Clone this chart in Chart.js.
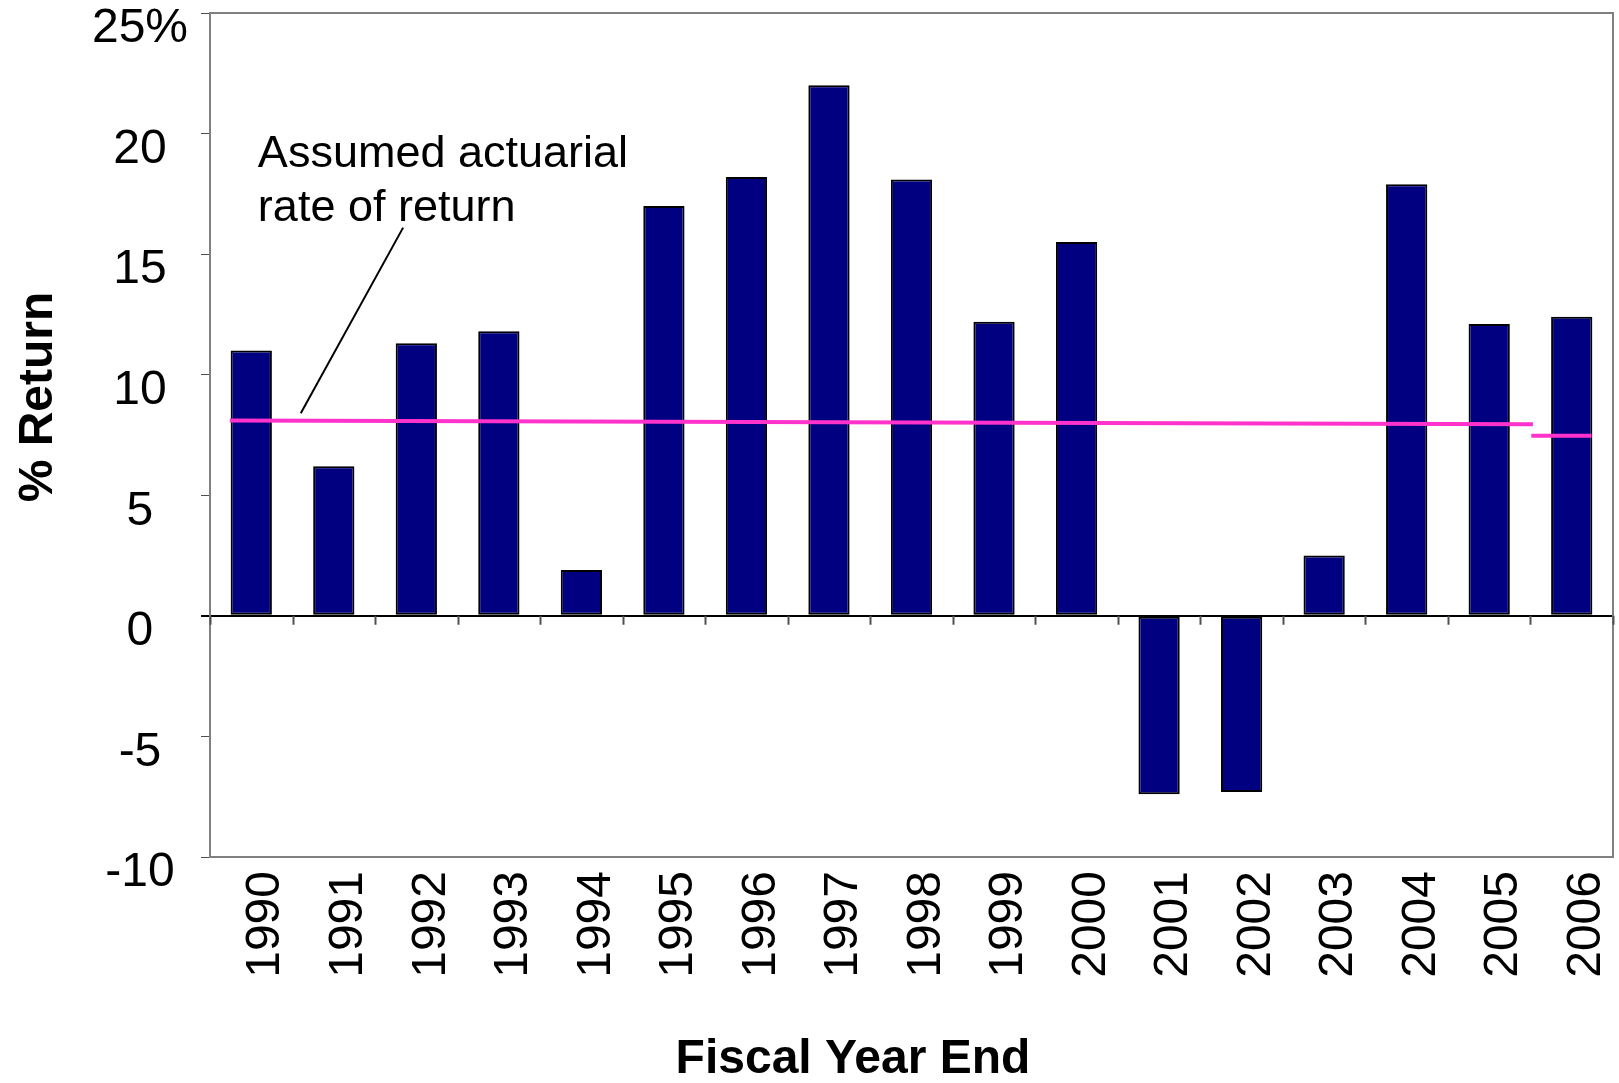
<!DOCTYPE html>
<html>
<head>
<meta charset="utf-8">
<title>% Return by Fiscal Year End</title>
<script src="https://cdn.jsdelivr.net/npm/chart.js@4.4.1/dist/chart.umd.min.js"></script>
<style>
  body { margin: 0; background: #fff; }
  #wrap { width: 1619px; height: 1083px; }
</style>
</head>
<body>
<div id="wrap"><canvas id="myChart"></canvas></div>
<script>
'use strict';

// Chart data
let years = [1990, 1991, 1992, 1993, 1994, 1995, 1996, 1997, 1998,
  1999, 2000, 2001, 2002, 2003, 2004, 2005, 2006];
let returns = [11.0, 6.2, 11.3, 11.8, 1.9, 17.0, 18.2, 22.0, 18.1,
  12.2, 15.5, -7.4, -7.3, 2.5, 17.9, 12.1, 12.4];
let yTicks = [-10, -5, 0, 5, 10, 15, 20, 25];

// Assumed actuarial rate line (x given in fiscal years, null = break)
let rateYears = [1989.74, 2005.53, 2005.53, 2005.51, 2006.24];
let rateValues = [8.1, 7.95, null, 7.47, 7.47];

// Callout text and its leader line
let noteLines = ['Assumed actuarial', 'rate of return'];
let noteYear = 1990.08;
let noteValue = 18.6;
let leaderYears = [1990.6, 1991.84];
let leaderValues = [8.4, 16.1];

// Axis titles
let yTitle = '% Return';
let xTitle = 'Fiscal Year End';

const FONT = "'Liberation Sans', Arial, sans-serif";
const X_MIN = years[0] - 0.5;
const X_MAX = years[years.length - 1] + 0.5;

function toPoints(xs, ys) {
  return xs.map((x, i) => ({ x: x, y: ys[i] }));
}

// Frame, zero-line ticks, callout and titles
let chartDecor = {
  id: 'chartDecor',
  beforeDatasetsDraw(chart) {
    let { ctx, chartArea: a, scales } = chart;
    ctx.save();
    ctx.strokeStyle = '#808080';
    ctx.lineWidth = 2;
    ctx.strokeRect(a.left, a.top, a.right - a.left, a.bottom - a.top);

    let y0 = scales.y.getPixelForValue(0);
    ctx.strokeStyle = '#505050';
    ctx.beginPath();
    for (let i = 0; i <= years.length; i++) {
      let x = Math.round(scales.x.getPixelForValue(X_MIN + i)) + 0.5;
      ctx.moveTo(x, y0);
      ctx.lineTo(x, y0 + 9);
    }
    ctx.stroke();
    ctx.restore();
  },
  afterDatasetsDraw(chart) {
    let { ctx, scales } = chart;
    ctx.save();
    ctx.fillStyle = '#000';
    ctx.font = '45px ' + FONT;
    ctx.textAlign = 'left';
    ctx.textBaseline = 'alphabetic';
    let x = scales.x.getPixelForValue(noteYear);
    let y = scales.y.getPixelForValue(noteValue);
    noteLines.forEach((line, i) => ctx.fillText(line, x, y + i * 54));
    ctx.restore();
  },
  afterDraw(chart) {
    let ctx = chart.ctx;
    ctx.save();
    ctx.fillStyle = '#000';
    ctx.textAlign = 'center';
    ctx.textBaseline = 'middle';
    ctx.font = 'bold 48px ' + FONT;
    ctx.translate(39, 397);
    ctx.rotate(-Math.PI / 2);
    ctx.fillText(yTitle, 0, 0);
    ctx.restore();

    ctx.save();
    ctx.fillStyle = '#000';
    ctx.textAlign = 'center';
    ctx.textBaseline = 'middle';
    ctx.font = 'bold 48px ' + FONT;
    ctx.fillText(xTitle, 853, 1060);
    ctx.restore();
  }
};

let ctx = document.getElementById('myChart').getContext('2d');
let myChart = new Chart(ctx, {
  type: 'bar',
  data: {
    datasets: [{
      type: 'line',
      label: 'Assumed actuarial rate of return',
      data: toPoints(rateYears, rateValues),
      borderColor: '#ff33cc',
      borderWidth: 4,
      pointRadius: 0,
      fill: false,
      spanGaps: false,
      tension: 0,
      order: 0
    },
    {
      type: 'line',
      label: 'leader',
      data: toPoints(leaderYears, leaderValues),
      borderColor: '#000',
      borderWidth: 2,
      pointRadius: 0,
      fill: false,
      order: 1
    },
    {
      type: 'bar',
      label: '% Return',
      data: toPoints(years, returns),
      backgroundColor: '#000080',
      borderColor: '#000',
      borderWidth: 2,
      borderSkipped: false,
      grouped: false,
      barPercentage: 0.5,
      categoryPercentage: 1.0,
      order: 2
    }]
  },
  options: {
    responsive: true,
    maintainAspectRatio: false,
    animation: false,
    layout: {
      padding: { top: 13, right: 6, left: 0, bottom: 0 }
    },
    plugins: {
      legend: { display: false },
      tooltip: { enabled: false }
    },
    scales: {
      x: {
        type: 'linear',
        min: X_MIN,
        max: X_MAX,
        offset: false,
        afterBuildTicks(scale) {
          scale.ticks = years.map(v => ({ value: v }));
        },
        grid: { display: false, drawTicks: false, offset: false },
        border: { display: false },
        ticks: {
          autoSkip: false,
          minRotation: 90,
          maxRotation: 90,
          padding: 14,
          labelOffset: 15,
          color: '#000',
          font: { family: FONT, size: 48 },
          callback: v => String(v)
        },
        afterFit(scale) {
          scale.height = 226;
          scale.paddingLeft = 0;
          scale.paddingRight = 0;
        }
      },
      y: {
        min: yTicks[0],
        max: yTicks[yTicks.length - 1],
        afterBuildTicks(scale) {
          scale.ticks = yTicks.map(v => ({ value: v }));
        },
        grid: {
          color: c => (c.tick && c.tick.value === 0 ? '#000' : 'rgba(0,0,0,0)'),
          lineWidth: c => (c.tick && c.tick.value === 0 ? 2 : 1),
          tickColor: c => (c.tick && c.tick.value === 0 ? '#000' : '#505050'),
          tickLength: 9,
          drawTicks: true
        },
        border: { display: false },
        ticks: {
          padding: 13,
          crossAlign: 'center',
          labelOffset: 16,
          color: '#000',
          font: { family: FONT, size: 48 },
          callback: v => (v === 25 ? '25%' : String(v))
        },
        afterFit(scale) {
          scale.width = 210;
          scale.paddingTop = 0;
          scale.paddingBottom = 0;
        }
      }
    }
  },
  plugins: [chartDecor]
});
</script>
</body>
</html>
